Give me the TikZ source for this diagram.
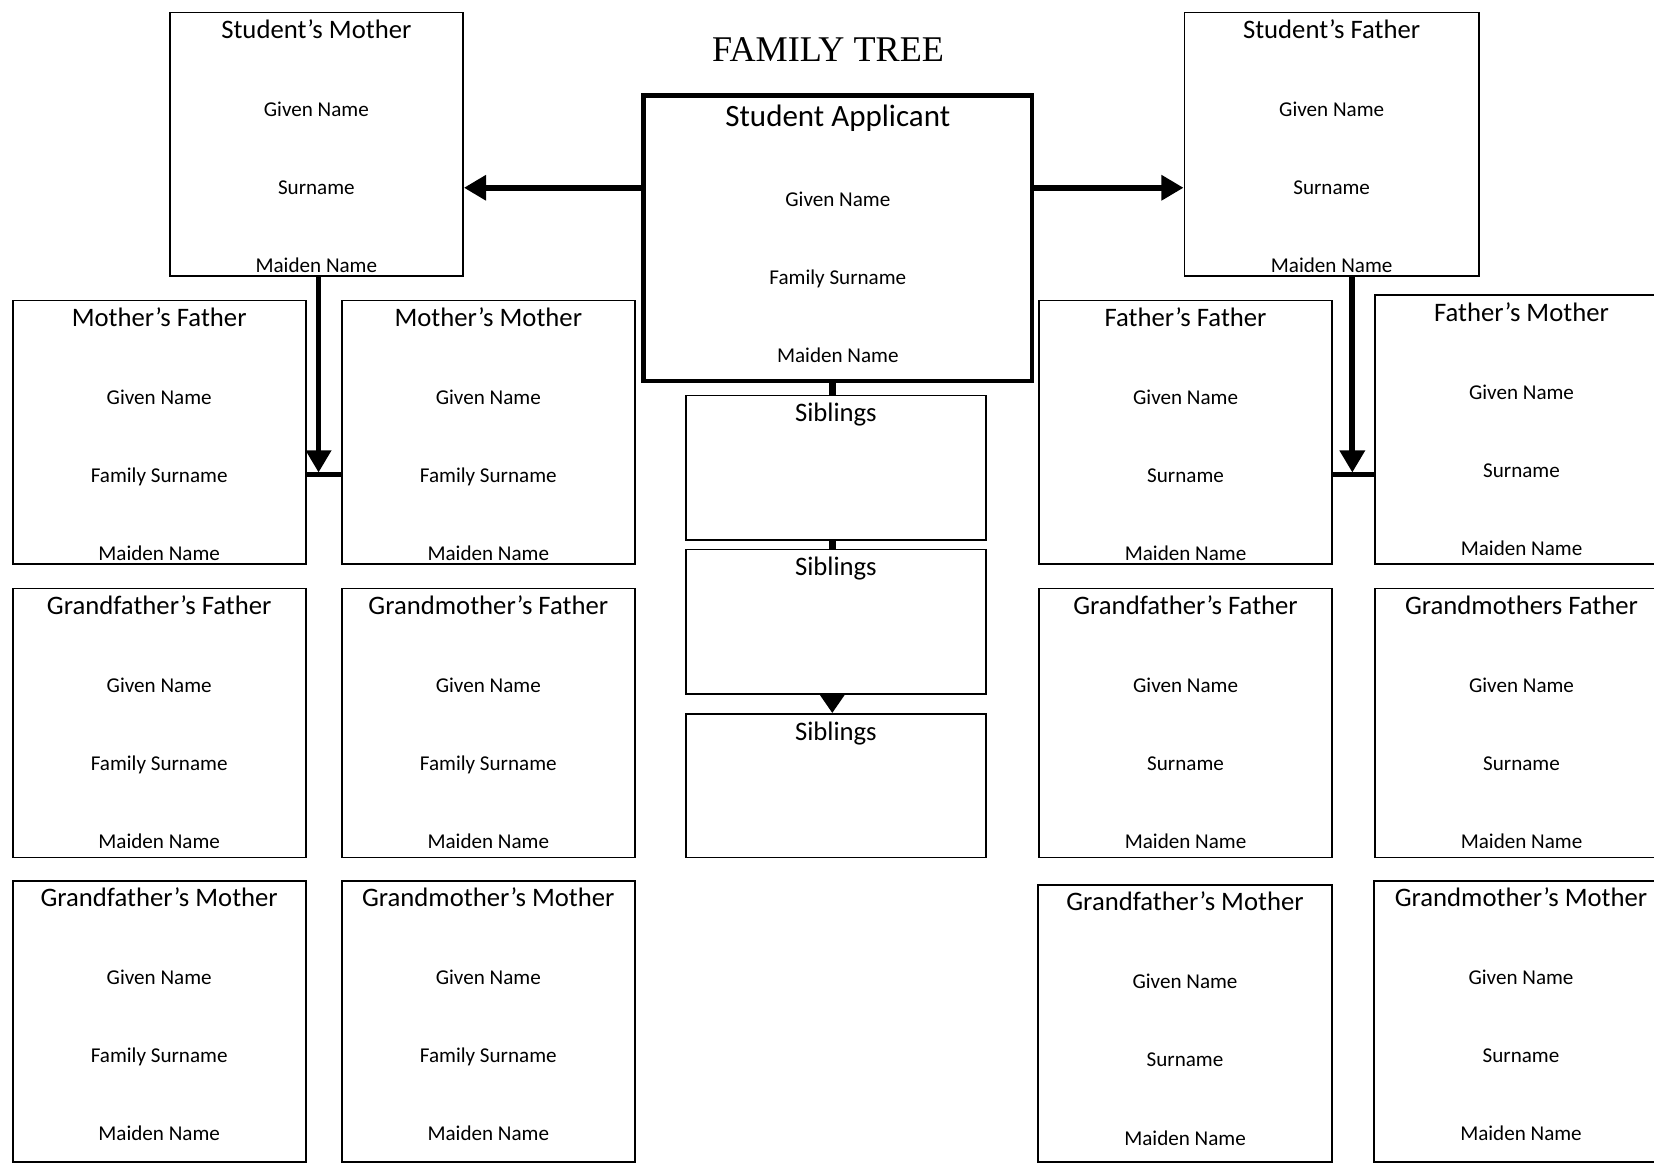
\documentclass[tikz,border=0pt]{standalone}
\usepackage{fontspec}
\setmainfont{Carlito}
\newfontfamily\titlefont{Liberation Serif}
\usetikzlibrary{arrows.meta,calc}
\newcommand\famcard[7]{%
  \node[card, minimum width={(#4-#2)*1pt}, minimum height={(#5-#3)*1pt}] (#1) at (#2,#3) {};
  \node[cardttl] (#1-t) at ($(#1.north)+(0,25.5)$) {#6};
  \node[cardtxt] (#1-g) at ($(#1.north)+(0,99.5)$) {Given Name};
  \node[cardtxt] (#1-s) at ($(#1.north)+(0,173.5)$) {#7};
  \node[cardtxt] (#1-m) at ($(#1.north)+(0,247.5)$) {Maiden Name};
}
\newcommand\sibcard[5]{%
  \node[card, minimum width={(#4-#2)*1pt}, minimum height={(#5-#3)*1pt}] (#1) at (#2,#3) {};
  \node[cardttl] (#1-t) at ($(#1.north)+(0,26)$) {Siblings};
}
\begin{document}
\begin{tikzpicture}[x=1pt,y=-1pt,
  card/.style={draw, line width=1.8pt, anchor=north west, inner sep=0pt},
  cardttl/.style={anchor=base, inner sep=0pt, font=\fontsize{25.3}{30}\selectfont},
  cardtxt/.style={anchor=base, inner sep=0pt, font=\fontsize{20}{24}\selectfont},
  bigttl/.style={anchor=base, inner sep=0pt, font=\fontsize{29.4}{34}\selectfont},
  conn/.style={line width=5.5pt, -{Triangle[width=23pt,length=21pt]}},
  link/.style={line width=5.5pt},
]
\useasboundingbox (0,0) rectangle (1568,1102);
\clip (0,0) rectangle (1568,1102);

\node[anchor=base, inner sep=0pt, font=\titlefont\fontsize{34.3}{40}\selectfont] (title) at (785,58.4) {FAMILY TREE};

% Student applicant
\node[draw, line width=4.5pt, anchor=north west, inner sep=0pt, minimum width=368pt, minimum height=271pt] (app) at (608,88) {};
\node[bigttl] (app-t) at ($(app.north)+(0,31.5)$) {Student Applicant};
\node[cardtxt] (app-g) at ($(app.north)+(0,107.5)$) {Given Name};
\node[cardtxt] (app-s) at ($(app.north)+(0,181.5)$) {Family Surname};
\node[cardtxt] (app-m) at ($(app.north)+(0,255.5)$) {Maiden Name};

% Parents
\famcard{smother}{160}{11}{438}{261}{Student’s Mother}{Surname}
\famcard{sfather}{1122}{11}{1401}{261}{Student’s Father}{Surname}

% Grandparents
\famcard{mf}{11}{284}{289}{534}{Mother’s Father}{Family Surname}
\famcard{mm}{323}{284}{601}{534}{Mother’s Mother}{Family Surname}
\famcard{ff}{984}{284}{1262}{534}{Father’s Father}{Surname}
\famcard{fm}{1303}{279}{1580}{534}{Father’s Mother}{Surname}

% Great-grandparents left
\famcard{lgff}{11}{557}{289}{812}{Grandfather’s Father}{Family Surname}
\famcard{lgmf}{323}{557}{601}{812}{Grandmother’s Father}{Family Surname}
\famcard{lgfm}{11}{834}{289}{1101}{Grandfather’s Mother}{Family Surname}
\famcard{lgmm}{323}{834}{601}{1101}{Grandmother’s Mother}{Family Surname}

% Great-grandparents right
\famcard{rgff}{984}{557}{1262}{812}{Grandfather’s Father}{Surname}
\famcard{rgmf}{1303}{557}{1580}{812}{Grandmothers Father}{Surname}
\famcard{rgfm}{983}{838}{1262}{1101}{Grandfather’s Mother}{Surname}
\famcard{rgmm}{1302}{834}{1580}{1101}{Grandmother’s Mother}{Surname}

% Siblings
\sibcard{sib1}{649}{374}{934}{511}
\sibcard{sib2}{649}{520}{934}{657}
\sibcard{sib3}{649}{676}{934}{812}

% Connectors
\coordinate (ay) at (0,178);
\draw[conn] (app.west |- ay) -- (smother.east |- ay);
\draw[conn] (app.east |- ay) -- (sfather.west |- ay);

\coordinate (mj) at (302,450);
\draw[link, line width=4.5pt] (mf.east |- mj) -- (mm.west |- mj);
\draw[conn, shorten >=2pt] (smother.south -| mj) -- (mj);

\coordinate (fj) at (1282,450);
\draw[link, line width=4.5pt] (ff.east |- fj) -- (fm.west |- fj);
\draw[conn, shorten >=2pt] (sfather.south -| fj) -- (fj);

\coordinate (sj) at (789,0);
\draw[link, line width=6.5pt] (app.south -| sj) -- (sib1.north -| sj);
\draw[link, line width=6.5pt] (sib1.south -| sj) -- (sib2.north -| sj);
\draw[line width=6.5pt, -{Triangle[width=22pt,length=17pt]}] (sib2.south -| sj) -- (sib3.north -| sj);
\end{tikzpicture}
\end{document}
